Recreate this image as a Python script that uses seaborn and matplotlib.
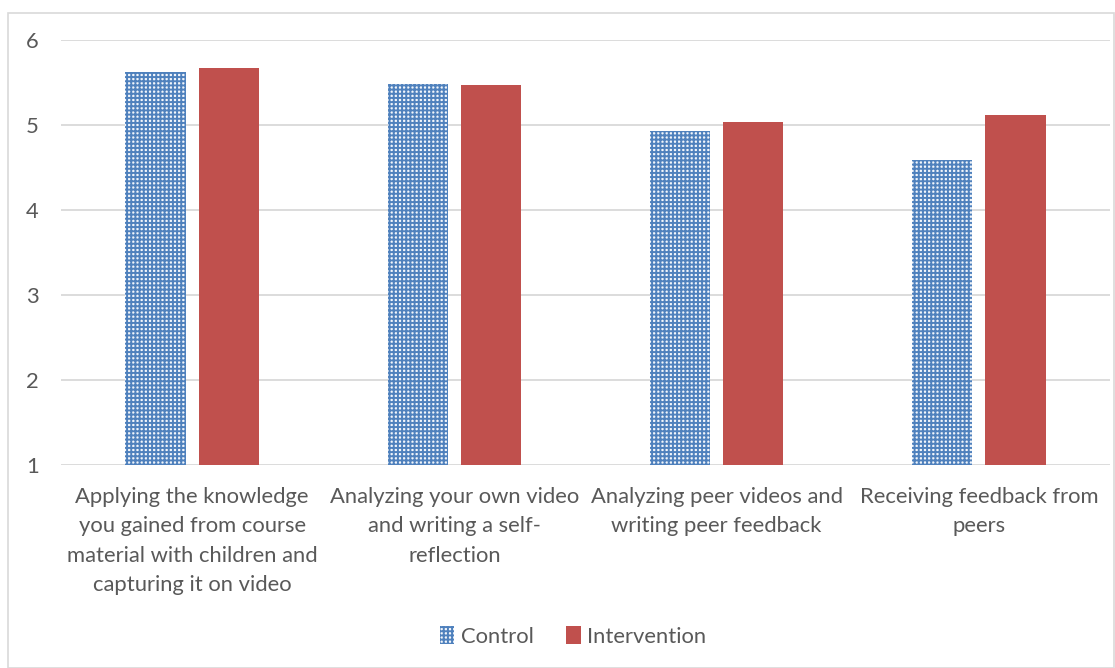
import matplotlib
matplotlib.use("Agg")
import matplotlib.pyplot as plt
from matplotlib.patches import Patch, Rectangle
import seaborn as sns
import pandas as pd

categories = [
    "Applying the knowledge\nyou gained from course\nmaterial with children and\ncapturing it on video",
    "Analyzing your own video\nand writing a self-\nreflection",
    "Analyzing peer videos and\nwriting peer feedback",
    "Receiving feedback from\npeers",
]
groups = ["Control", "Intervention"]
control = [5.62, 5.48, 4.93, 4.59]
intervention = [5.67, 5.47, 5.03, 5.12]
y_ticks = [1, 2, 3, 4, 5, 6]

blue = "#4F81BD"
red = "#C0504D"
text_col = "#595959"
grid_col = "#D9D9D9"

df = pd.DataFrame({
    "category": categories * 2,
    "group": [groups[0]] * len(categories) + [groups[1]] * len(categories),
    "value": control + intervention,
})

sns.set_theme(style="white")
plt.rcParams["font.family"] = ["Lato", "DejaVu Sans"]
plt.rcParams["hatch.linewidth"] = 1.4

fig = plt.figure(figsize=(11.15, 6.68), dpi=100)
ax = fig.add_axes([0.0547, 0.3039, 0.9408, 0.6362])

sns.barplot(data=df, x="category", y="value", hue="group",
            palette={"Control": blue, "Intervention": red}, saturation=1,
            width=0.56, gap=0.18, ax=ax, legend=False,
            errorbar=None, zorder=3)

# y-values start at 1, so bars are drawn from the axis floor
for bar in ax.patches:
    h = bar.get_height()
    bar.set_y(1)
    bar.set_height(h - 1)

n = len(categories)
light = "#F2F6FB"
for bar in ax.patches[:n]:
    bar.set_facecolor(light)
    bar.set_edgecolor(blue)
    bar.set_linewidth(0)
    bar.set_hatch("++++")
for bar in ax.patches[n:]:
    bar.set_edgecolor("none")

fs = 15.8
ax.set_ylim(1, 6)
ax.set_xlim(-0.5, n - 0.5)
ax.set_yticks(y_ticks)
ax.set_yticklabels([str(t) for t in y_ticks], color=text_col, fontsize=fs)
ax.tick_params(axis="y", length=0, pad=16)
ax.tick_params(axis="x", length=0, pad=16)
for lbl in ax.get_xticklabels():
    lbl.set_color(text_col)
    lbl.set_fontsize(fs)
    lbl.set_linespacing(1.58)
ax.set_xlabel("")
ax.set_ylabel("")
ax.yaxis.grid(True, color=grid_col, linewidth=1.3, zorder=0)
ax.set_axisbelow(True)
for s in ax.spines.values():
    s.set_visible(False)

handles = [
    Patch(facecolor=light, edgecolor=blue, hatch="++++", linewidth=0, label="Control"),
    Patch(facecolor=red, edgecolor="none", label="Intervention"),
]
fig.legend(handles=handles, loc="center", bbox_to_anchor=(0.514, 0.047),
           ncol=2, frameon=False, fontsize=fs, handlelength=0.65,
           handleheight=0.85, handletextpad=0.3, columnspacing=1.5,
           labelcolor=text_col)

fig.patches.append(Rectangle((0.007, 0.0), 0.992, 0.981, transform=fig.transFigure,
                             fill=False, edgecolor=grid_col, linewidth=1.2))

fig.savefig("out.png", dpi=100)
